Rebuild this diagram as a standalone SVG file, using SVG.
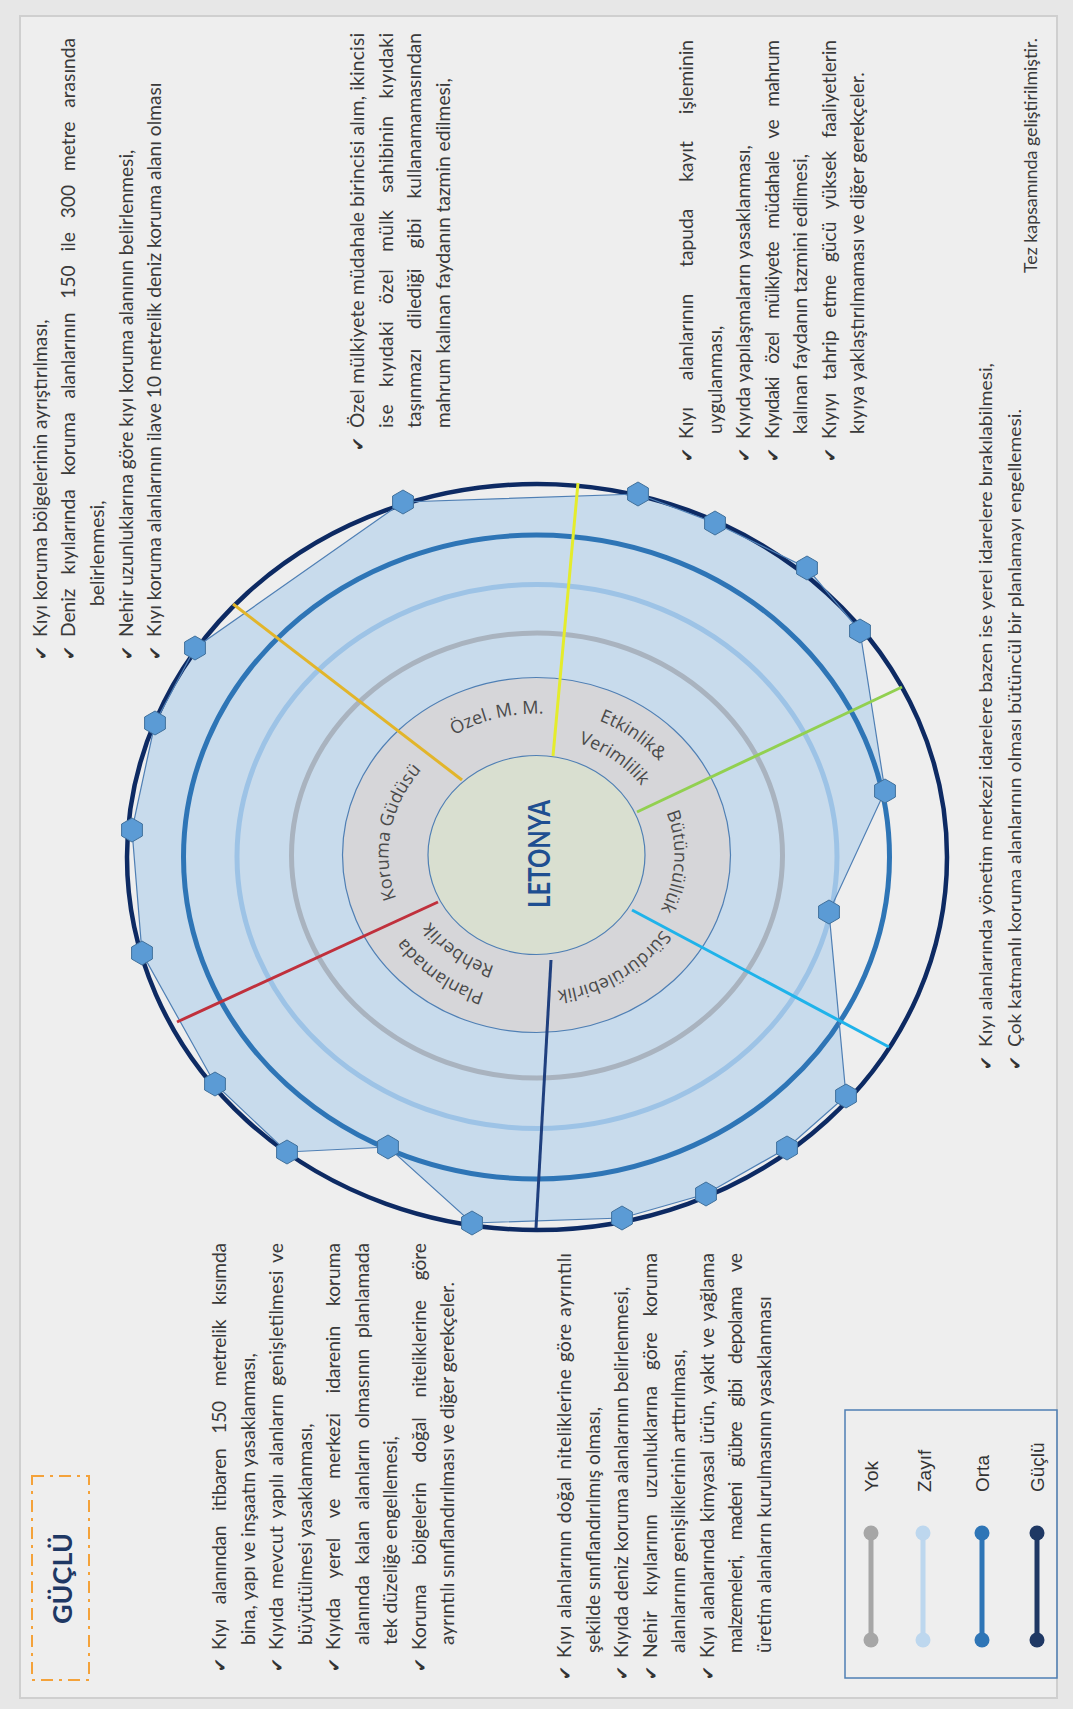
<svg xmlns="http://www.w3.org/2000/svg" width="1073" height="1709" viewBox="0 0 1073 1709">
<style>
.t{font-family:Lato,"Open Sans","DejaVu Sans",sans-serif;font-size:19.2px;fill:#3a3a3a}
.c{font-family:Lato,"Liberation Sans",sans-serif;font-size:17px;fill:#3a3a3a}
.ck{font-family:"DejaVu Sans",sans-serif;font-size:17px;fill:#333}
.lab{font-family:"Open Sans","Noto Sans",sans-serif;font-size:18px;fill:#4a4a4a}
.leg{font-family:"Liberation Sans",Arial,sans-serif;font-size:19px;fill:#333}
.mk{fill:#5b9bd5;stroke:#41719c;stroke-width:1}
.sp{stroke-width:3;fill:none}
</style>
<defs>
<polygon id="hex" points="0,-12 10.4,-6 10.4,6 0,12 -10.4,6 -10.4,-6"/>
<path id="aKor" d="M408.3,922.5 A148,135 0 0 1 441.4,751.6"/>
<path id="aOzel" d="M426.9,755 A155,141.4 0 0 1 576.6,718.4"/>
<path id="aEtk" d="M555.9,710.2 A160,145.9 0 0 1 683.8,798"/>
<path id="aVer" d="M552.1,737.6 A129,117.6 0 0 1 655.2,809"/>
<path id="aBut" d="M658.3,795.9 A138,125.9 0 0 1 650.9,925.4"/>
<path id="aSur" d="M666.4,923.4 A150,136.8 0 0 1 549.6,991.3"/>
<path id="aPla" d="M542.1,1000.8 A160,145.9 0 0 1 380,885.3"/>
<path id="aReh" d="M541,972.5 A129,117.6 0 0 1 410.3,879.5"/>
</defs>
<rect x="0" y="0" width="1073" height="1709" fill="#e7e7e7"/>
<rect x="20" y="16" width="1037" height="1682" fill="#eeeeee" stroke="#cfcfcf" stroke-width="2"/>

<g id="radar">
<polygon points="403,502 638,494 715,523 807,568 860,631 885,791 829,912 846,1096 787,1148 706,1194 622,1218 472,1223 388,1147 287,1152 215,1084 142,953 132,830 155,723 195,648" fill="#c8dbec" stroke="none"/>
<ellipse cx="537" cy="857" rx="410" ry="373" fill="none" stroke="#0d2a63" stroke-width="4.5"/>
<ellipse cx="536.5" cy="857" rx="353" ry="322" fill="none" stroke="#2e75b6" stroke-width="5"/>
<ellipse cx="537" cy="856.5" rx="300" ry="272" fill="none" stroke="#9dc3e6" stroke-width="5"/>
<ellipse cx="537" cy="855.5" rx="245.5" ry="222.5" fill="none" stroke="#a9b3bf" stroke-width="5"/>
<polygon points="403,502 638,494 715,523 807,568 860,631 885,791 829,912 846,1096 787,1148 706,1194 622,1218 472,1223 388,1147 287,1152 215,1084 142,953 132,830 155,723 195,648" fill="none" stroke="#4f7fb4" stroke-width="1.2"/>
</g>

<g id="band">
<ellipse cx="536.5" cy="855" rx="194" ry="177.5" fill="#d6d6d9" stroke="#4f7fb4" stroke-width="1.2"/>
<text class="lab"><textPath href="#aKor" startOffset="50%" text-anchor="middle">Koruma Güdüsü</textPath></text>
<text class="lab"><textPath href="#aOzel" startOffset="50%" text-anchor="middle">Özel. M. M.</textPath></text>
<text class="lab"><textPath href="#aEtk" startOffset="50%" text-anchor="middle">Etkinlik&amp;</textPath></text>
<text class="lab"><textPath href="#aVer" startOffset="50%" text-anchor="middle">Verimlilik</textPath></text>
<text class="lab"><textPath href="#aBut" startOffset="50%" text-anchor="middle">Bütüncüllük</textPath></text>
<text class="lab"><textPath href="#aSur" startOffset="50%" text-anchor="middle">Sürdürülebirlik</textPath></text>
<text class="lab"><textPath href="#aPla" startOffset="50%" text-anchor="middle">Planlamada</textPath></text>
<text class="lab"><textPath href="#aReh" startOffset="50%" text-anchor="middle">Rehberlik</textPath></text>
</g>

<g id="center">
<ellipse cx="536.5" cy="855" rx="108.5" ry="99.5" fill="#d9dfd0" stroke="#4f7fb4" stroke-width="1.2"/>
<text transform="translate(0,1709) rotate(-90)" x="855" y="550" text-anchor="middle" textLength="108" lengthAdjust="spacingAndGlyphs" style="font-family:Lato,'Open Sans',sans-serif;font-size:30px;font-weight:bold;fill:#1f4f91">LETONYA</text>
</g>

<g id="connectors">
<line class="sp" x1="462" y1="780" x2="233" y2="604" stroke="#e2b52a"/>
<line class="sp" x1="553" y1="756" x2="578" y2="483" stroke="#e4ec2c"/>
<line class="sp" x1="637" y1="812" x2="902" y2="687" stroke="#92d050"/>
<line class="sp" x1="632" y1="910" x2="889" y2="1047" stroke="#1fb3ea"/>
<line class="sp" x1="551" y1="960" x2="536" y2="1228" stroke="#1f3f7e"/>
<line class="sp" x1="438" y1="902" x2="177" y2="1022" stroke="#c0303c"/>
</g>

<g id="markers">
<use href="#hex" class="mk" x="403" y="502"/>
<use href="#hex" class="mk" x="638" y="494"/>
<use href="#hex" class="mk" x="715" y="523"/>
<use href="#hex" class="mk" x="807" y="568"/>
<use href="#hex" class="mk" x="860" y="631"/>
<use href="#hex" class="mk" x="885" y="791"/>
<use href="#hex" class="mk" x="829" y="912"/>
<use href="#hex" class="mk" x="846" y="1096"/>
<use href="#hex" class="mk" x="787" y="1148"/>
<use href="#hex" class="mk" x="706" y="1194"/>
<use href="#hex" class="mk" x="622" y="1218"/>
<use href="#hex" class="mk" x="472" y="1223"/>
<use href="#hex" class="mk" x="388" y="1147"/>
<use href="#hex" class="mk" x="287" y="1152"/>
<use href="#hex" class="mk" x="215" y="1084"/>
<use href="#hex" class="mk" x="142" y="953"/>
<use href="#hex" class="mk" x="132" y="830"/>
<use href="#hex" class="mk" x="155" y="723"/>
<use href="#hex" class="mk" x="195" y="648"/>
</g>

<g id="legend">
<rect x="845" y="1410" width="212" height="268" fill="none" stroke="#4f7fb4" stroke-width="1.5"/>
<g stroke-width="5">
<line x1="871" y1="1533" x2="871" y2="1640" stroke="#a6a6a6"/>
<line x1="923" y1="1533" x2="923" y2="1640" stroke="#bdd7ee"/>
<line x1="982" y1="1533" x2="982" y2="1640" stroke="#2e75b6"/>
<line x1="1037" y1="1533" x2="1037" y2="1640" stroke="#1f3864"/>
</g>
<circle cx="871" cy="1533" r="7.5" fill="#a6a6a6"/><circle cx="871" cy="1640" r="7.5" fill="#a6a6a6"/>
<circle cx="923" cy="1533" r="7.5" fill="#bdd7ee"/><circle cx="923" cy="1640" r="7.5" fill="#bdd7ee"/>
<circle cx="982" cy="1533" r="7.5" fill="#2e75b6"/><circle cx="982" cy="1640" r="7.5" fill="#2e75b6"/>
<circle cx="1037" cy="1533" r="7.5" fill="#1f3864"/><circle cx="1037" cy="1640" r="7.5" fill="#1f3864"/>
<g transform="translate(0,1709) rotate(-90)">
<text class="leg" x="217" y="878">Yok</text>
<text class="leg" x="217" y="931">Zayıf</text>
<text class="leg" x="217" y="989">Orta</text>
<text class="leg" x="217" y="1044">Güçlü</text>
</g>
</g>

<g id="title">
<rect x="32" y="1476" width="57" height="204" fill="none" stroke="#f4a23a" stroke-width="2" stroke-dasharray="12,6,3,6"/>
<text transform="translate(0,1709) rotate(-90)" x="130.5" y="72" text-anchor="middle" style="font-family:Lato,'Open Sans',sans-serif;font-size:27px;font-weight:bold;fill:#1f3864">GÜÇLÜ</text>
</g>

<g transform="translate(0,1709) rotate(-90)">
<g id="block1">
<text class="ck" x="1049" y="47">✔</text>
<text class="t" x="1072" y="47">Kıyı koruma bölgelerinin ayrıştırılması,</text>
<text class="ck" x="1049" y="75">✔</text>
<text class="t" x="1072" y="75" textLength="599" lengthAdjust="spacing" style="word-spacing:9px">Deniz kıyılarında koruma alanlarının 150 ile 300 metre arasında</text>
<text class="t" x="1103" y="104">belirlenmesi,</text>
<text class="ck" x="1049" y="133">✔</text>
<text class="t" x="1072" y="133">Nehir uzunluklarına göre kıyı koruma alanının belirlenmesi,</text>
<text class="ck" x="1049" y="161">✔</text>
<text class="t" x="1072" y="161">Kıyı koruma alanlarının ilave 10 metrelik deniz koruma alanı olması</text>
</g>
<g id="block2">
<text class="ck" x="1258" y="364">✔</text>
<text class="t" x="1281" y="364" textLength="395" lengthAdjust="spacing">Özel mülkiyete müdahale birincisi alım, ikincisi</text>
<text class="t" x="1281" y="392.5" textLength="395" lengthAdjust="spacing" style="word-spacing:12px">ise kıyıdaki özel mülk sahibinin kıyıdaki</text>
<text class="t" x="1281" y="421" textLength="395" lengthAdjust="spacing" style="word-spacing:15px">taşınmazı dilediği gibi kullanamamasından</text>
<text class="t" x="1281" y="449.5">mahrum kalınan faydanın tazmin edilmesi,</text>
</g>
<g id="block3">
<text class="ck" x="1247" y="693">✔</text>
<text class="t" x="1270" y="693" textLength="399" lengthAdjust="spacing" style="word-spacing:22px">Kıyı alanlarının tapuda kayıt işleminin</text>
<text class="t" x="1275" y="721.5">uygulanması,</text>
<text class="ck" x="1247" y="750">✔</text>
<text class="t" x="1270" y="750">Kıyıda yapılaşmaların yasaklanması,</text>
<text class="ck" x="1247" y="778.5">✔</text>
<text class="t" x="1270" y="778.5" textLength="399" lengthAdjust="spacing" style="word-spacing:9px">Kıyıdaki özel mülkiyete müdahale ve mahrum</text>
<text class="t" x="1275" y="807">kalınan faydanın tazmini edilmesi,</text>
<text class="ck" x="1247" y="835.5">✔</text>
<text class="t" x="1270" y="835.5" textLength="399" lengthAdjust="spacing" style="word-spacing:8px">Kıyıyı tahrip etme gücü yüksek faaliyetlerin</text>
<text class="t" x="1275" y="864">kıyıya yaklaştırılmaması ve diğer gerekçeler.</text>
</g>
<g id="block4">
<text class="ck" x="37" y="226">✔</text>
<text class="t" x="59" y="226" textLength="407" lengthAdjust="spacing" style="word-spacing:10px">Kıyı alanından itibaren 150 metrelik kısımda</text>
<text class="t" x="64" y="254.5">bina, yapı ve inşaatın yasaklanması,</text>
<text class="ck" x="37" y="283">✔</text>
<text class="t" x="59" y="283" textLength="407" lengthAdjust="spacing" style="word-spacing:3px">Kıyıda mevcut yapılı alanların genişletilmesi ve</text>
<text class="t" x="64" y="311.5">büyütülmesi yasaklanması,</text>
<text class="ck" x="37" y="340">✔</text>
<text class="t" x="59" y="340" textLength="407" lengthAdjust="spacing" style="word-spacing:15px">Kıyıda yerel ve merkezi idarenin koruma</text>
<text class="t" x="64" y="368.5" textLength="402" lengthAdjust="spacing" style="word-spacing:6px">alanında kalan alanların olmasının planlamada</text>
<text class="t" x="64" y="397">tek düzeliğe engellemesi,</text>
<text class="ck" x="37" y="425.5">✔</text>
<text class="t" x="59" y="425.5" textLength="407" lengthAdjust="spacing" style="word-spacing:15px">Koruma bölgelerin doğal niteliklerine göre</text>
<text class="t" x="64" y="454">ayrıntılı sınıflandırılması ve diğer gerekçeler.</text>
</g>
<g id="block5">
<text class="ck" x="29" y="571">✔</text>
<text class="t" x="51" y="571" textLength="405" lengthAdjust="spacing" style="word-spacing:2px">Kıyı alanlarının doğal niteliklerine göre ayrıntılı</text>
<text class="t" x="56" y="599.5">şekilde sınıflandırılmış olması,</text>
<text class="ck" x="29" y="628">✔</text>
<text class="t" x="51" y="628">Kıyıda deniz koruma alanlarının belirlenmesi,</text>
<text class="ck" x="29" y="656.5">✔</text>
<text class="t" x="51" y="656.5" textLength="405" lengthAdjust="spacing" style="word-spacing:11px">Nehir kıyılarının uzunluklarına göre koruma</text>
<text class="t" x="56" y="685">alanlarının genişliklerinin arttırılması,</text>
<text class="ck" x="29" y="713.5">✔</text>
<text class="t" x="51" y="713.5" textLength="405" lengthAdjust="spacing" style="word-spacing:2px">Kıyı alanlarında kimyasal ürün, yakıt ve yağlama</text>
<text class="t" x="56" y="742" textLength="400" lengthAdjust="spacing" style="word-spacing:11px">malzemeleri, madeni gübre gibi depolama ve</text>
<text class="t" x="56" y="770.5">üretim alanların kurulmasının yasaklanması</text>
</g>
<g id="block6">
<text class="ck" x="639" y="992">✔</text>
<text class="c" x="662" y="992" textLength="684" lengthAdjust="spacingAndGlyphs">Kıyı alanlarında yönetim merkezi idarelere bazen ise yerel idarelere bırakılabilmesi,</text>
<text class="ck" x="639" y="1021">✔</text>
<text class="c" x="662" y="1021" textLength="638" lengthAdjust="spacingAndGlyphs">Çok katmanlı koruma alanlarının olması bütüncül bir planlamayı engellemesi.</text>
</g>
<g id="source">
<text class="c" x="1436" y="1037" textLength="235" lengthAdjust="spacingAndGlyphs">Tez kapsamında geliştirilmiştir.</text>
</g>
</g>
</svg>
